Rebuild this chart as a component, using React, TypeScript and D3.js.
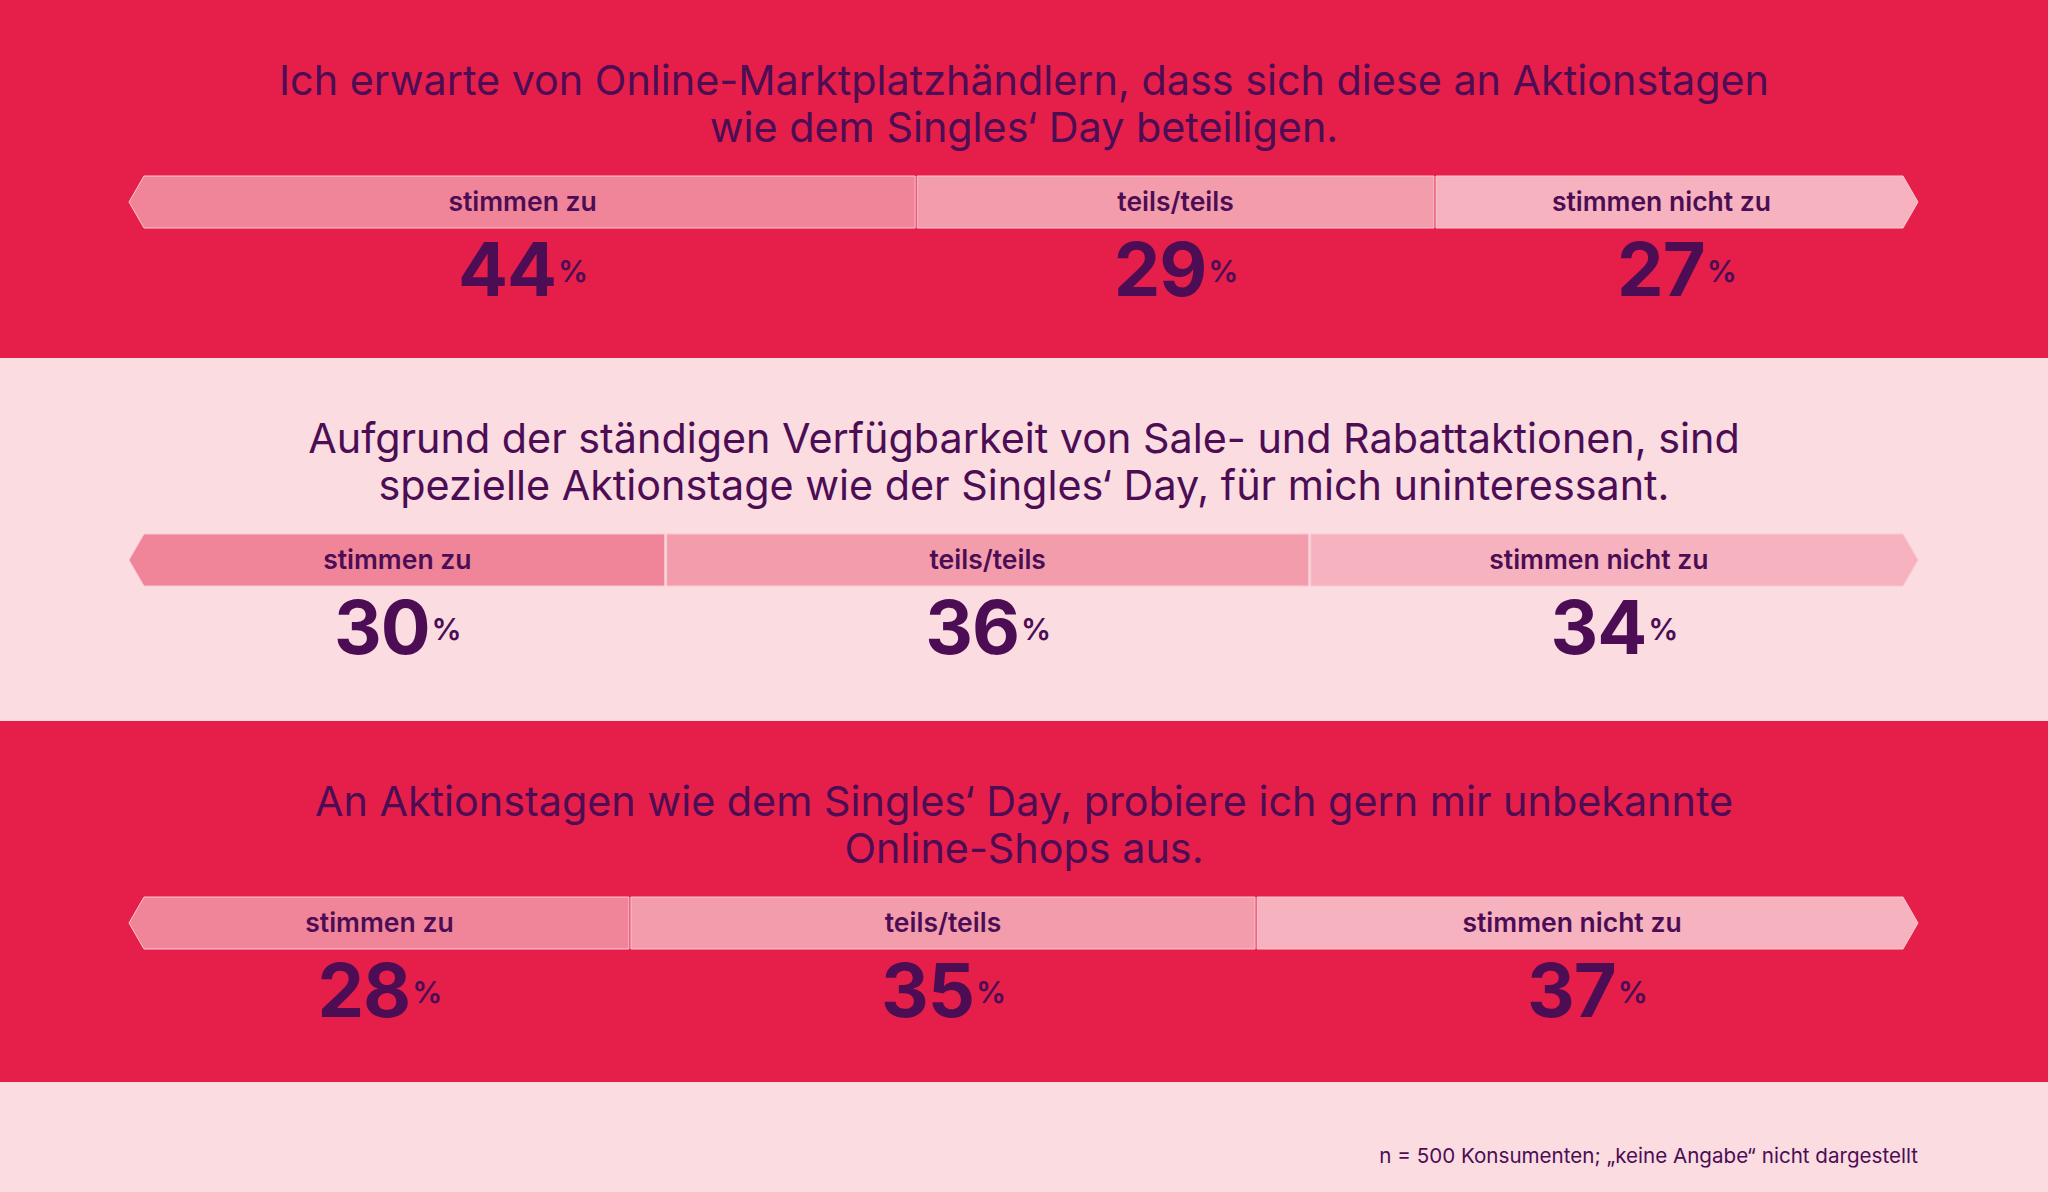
import React from "react";
import * as d3 from "d3";

const statements = [
  ["Ich erwarte von Online-Marktplatzhändlern, dass sich diese an Aktionstagen", "wie dem Singles‘ Day beteiligen."],
  ["Aufgrund der ständigen Verfügbarkeit von Sale- und Rabattaktionen, sind", "spezielle Aktionstage wie der Singles‘ Day, für mich uninteressant."],
  ["An Aktionstagen wie dem Singles‘ Day, probiere ich gern mir unbekannte", "Online-Shops aus."],
];
const categories = ["stimmen zu", "teils/teils", "stimmen nicht zu"];
const agreeValues = [44, 30, 28];
const neutralValues = [29, 36, 35];
const disagreeValues = [27, 34, 37];
const footnote = "n = 500 Konsumenten; „keine Angabe“ nicht dargestellt";

const W = 2048;
const H = 1192;
const panelH = [358, 363, 361];
const panelBg = ["#E61F4A", "#FADCE1", "#E61F4A"];
const segColors = ["#F08499", "#F39DAC", "#F6B2BE"];
const ink = "#4C0D55";
const font = "Inter, 'Noto Sans', sans-serif";

export default function App() {
  const x = d3.scaleLinear().domain([0, 100]).range([129, 1918]);
  const tip = 15;
  const panelTops = panelH.map((_, i) => d3.sum(panelH.slice(0, i)));
  return (
    <svg width={W} height={H} style={{ display: "block", position: "absolute", left: 0, top: 0 }}>
      <rect x={0} y={0} width={W} height={H} fill="#FADCE1" />
      {statements.map((lines, i) => {
        const top = panelTops[i];
        const vals = [agreeValues[i], neutralValues[i], disagreeValues[i]];
        const cum = vals.map((_, k) => d3.sum(vals.slice(0, k)));
        const by = top + 176;
        const bh = 52;
        const mid = by + bh / 2;
        return (
          <g key={i}>
            <rect x={0} y={top} width={W} height={panelH[i]} fill={panelBg[i]} />
            {lines.map((l, j) => (
              <text key={j} x={W / 2} y={top + 95 + j * 47} textAnchor="middle" fontFamily={font} fontSize={41.3} fill={ink}>
                {l}
              </text>
            ))}
            {vals.map((v, k) => {
              const x0 = x(cum[k]);
              const x1 = x(cum[k] + v);
              let pts: [number, number][];
              if (k === 0) {
                pts = [[x0, mid], [x0 + tip, by], [x1 - 1, by], [x1 - 1, by + bh], [x0 + tip, by + bh]];
              } else if (k === vals.length - 1) {
                pts = [[x0 + 1, by], [x1 - tip, by], [x1, mid], [x1 - tip, by + bh], [x0 + 1, by + bh]];
              } else {
                pts = [[x0 + 1, by], [x1 - 1, by], [x1 - 1, by + bh], [x0 + 1, by + bh]];
              }
              const cx = (x0 + x1) / 2;
              const lx = k === vals.length - 1 ? (x0 + x1 - 2 * tip) / 2 : cx;
              return (
                <g key={k}>
                  <polygon points={pts.map((p) => p.join(",")).join(" ")} fill={segColors[k]} stroke="#F9C9D1" strokeWidth={1} />
                  <text x={lx} y={mid + 9} textAnchor="middle" fontFamily={font} fontWeight={600} fontSize={26.5} fill={ink}>
                    {categories[k]}
                  </text>
                  <text x={cx} y={top + 296} textAnchor="middle" fontFamily={font} fontWeight={700} fontSize={74} fill={ink} letterSpacing={-1}>
                    {v}
                    <tspan fontSize={30} fontWeight={600} dx={2} dy={-14}>%</tspan>
                  </text>
                </g>
              );
            })}
          </g>
        );
      })}
      <text x={1918} y={1163} textAnchor="end" fontFamily={font} fontSize={20.6} fill={ink}>
        {footnote}
      </text>
    </svg>
  );
}
